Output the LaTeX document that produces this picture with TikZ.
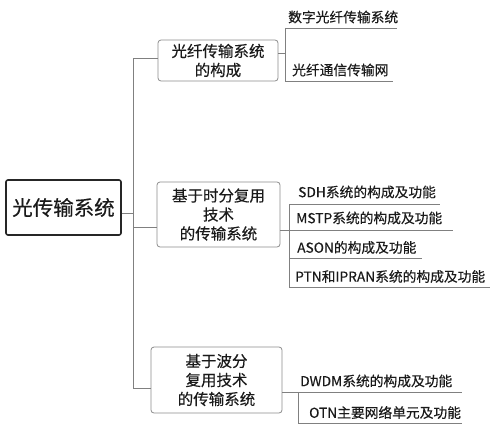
\documentclass[tikz,border=0pt]{standalone}
\usepackage{fontspec}
\newfontfamily\cjk[FakeBold=0.35]{Noto Sans CJK SC}
\definecolor{lineGray}{HTML}{808080}
\definecolor{boxGray}{HTML}{8C8C8C}
\definecolor{rootBorder}{HTML}{262626}
\definecolor{txt}{HTML}{1A1A1A}
\begin{document}
\begin{tikzpicture}[x=1pt,y=-1pt,
  conn/.style={draw=lineGray, line width=1pt},
  ul/.style={draw=lineGray, line width=0.9pt},
  box/.style={draw=boxGray, rounded corners=3pt, line width=0.8pt, align=center,
    inner sep=0pt, text=txt, font=\cjk\fontsize{15.5}{19}\selectfont},
  rootbox/.style={draw=rootBorder, rounded corners=2pt, line width=1.6pt, inner sep=0pt,
    text=txt, font=\cjk\fontsize{20.5}{24}\selectfont},
  leaf/.style={anchor=west, inner sep=0pt, text=txt, font=\cjk\fontsize{13.75}{16}\selectfont}]
\useasboundingbox (0,0) rectangle (494,428);
% main nodes
\node[rootbox, minimum width=115pt, minimum height=55pt] (root) at (63.5,207.5) {光传输系统};
\node[box, minimum width=120pt, minimum height=41pt] (b1) at (218,60.5) {光纤传输系统\\的构成};
\node[box, minimum width=123pt, minimum height=65pt] (b2) at (218.5,214.5) {基于时分复用\\技术\\的传输系统};
\node[box, minimum width=131pt, minimum height=66pt] (b3) at (216.5,380) {基于波分\\复用技术\\的传输系统};
% trunk
\coordinate (rs) at (133,213);
\coordinate (ttop) at (133,58);
\coordinate (tbot) at (133,388);
\draw[conn] ([yshift=-5.5pt]root.east) -- (rs);
\draw[conn] (ttop) -- (tbot);
\draw[conn] (ttop) -- (ttop -| b1.west);
\draw[conn] (133,227) coordinate (t2) -- (t2 -| b2.west);
\draw[conn] (tbot) -- (tbot -| b3.west);
% group 1 leaves
\coordinate (g1s) at (285,53);
\coordinate (g1t) at (285,28);
\coordinate (g1b) at (285,81);
\draw[conn] (b1.east |- g1s) -- (g1s);
\draw[conn] (g1t) -- (g1b);
\node[leaf] (l11) at (288,17) {数字光纤传输系统};
\node[leaf] (l12) at (292,70) {光纤通信传输网};
\coordinate (e11) at (397,28);
\coordinate (e12) at (393,81);
\draw[ul] (g1t) -- (e11);
\draw[ul] (g1b) -- (e12);
% group 2 leaves
\coordinate (g2s) at (289,230);
\coordinate (g2t) at (289,204);
\coordinate (g2b) at (289,287);
\draw[conn] (b2.east |- g2s) -- (g2s);
\draw[conn] (g2t) -- (g2b);
\node[leaf] (l21) at (298,192) {SDH系统的构成及功能};
\node[leaf] (l22) at (296,218) {MSTP系统的构成及功能};
\node[leaf] (l23) at (297,247.5) {ASON的构成及功能};
\node[leaf] (l24) at (295,276.5) {PTN和IPRAN系统的构成及功能};
\coordinate (e21) at (440,204);
\coordinate (e22) at (453,230);
\coordinate (s23) at (289,258);
\coordinate (e23) at (422,258);
\coordinate (e24) at (490,287);
\draw[ul] (g2t) -- (e21);
\draw[ul] (g2s) -- (e22);
\draw[ul] (s23) -- (e23);
\draw[ul] (g2b) -- (e24);
% group 3 leaves
\coordinate (g3s) at (298,392);
\coordinate (g3b) at (298,423);
\draw[conn] (b3.east |- g3s) -- (g3s);
\draw[conn] (g3s) -- (g3b);
\node[leaf] (l31) at (300,381) {DWDM系统的构成及功能};
\node[leaf] (l32) at (309,412.5) {OTN主要网络单元及功能};
\coordinate (e31) at (462,392);
\coordinate (e32) at (462,423);
\draw[ul] (g3s) -- (e31);
\draw[ul] (g3b) -- (e32);
\end{tikzpicture}
\end{document}
